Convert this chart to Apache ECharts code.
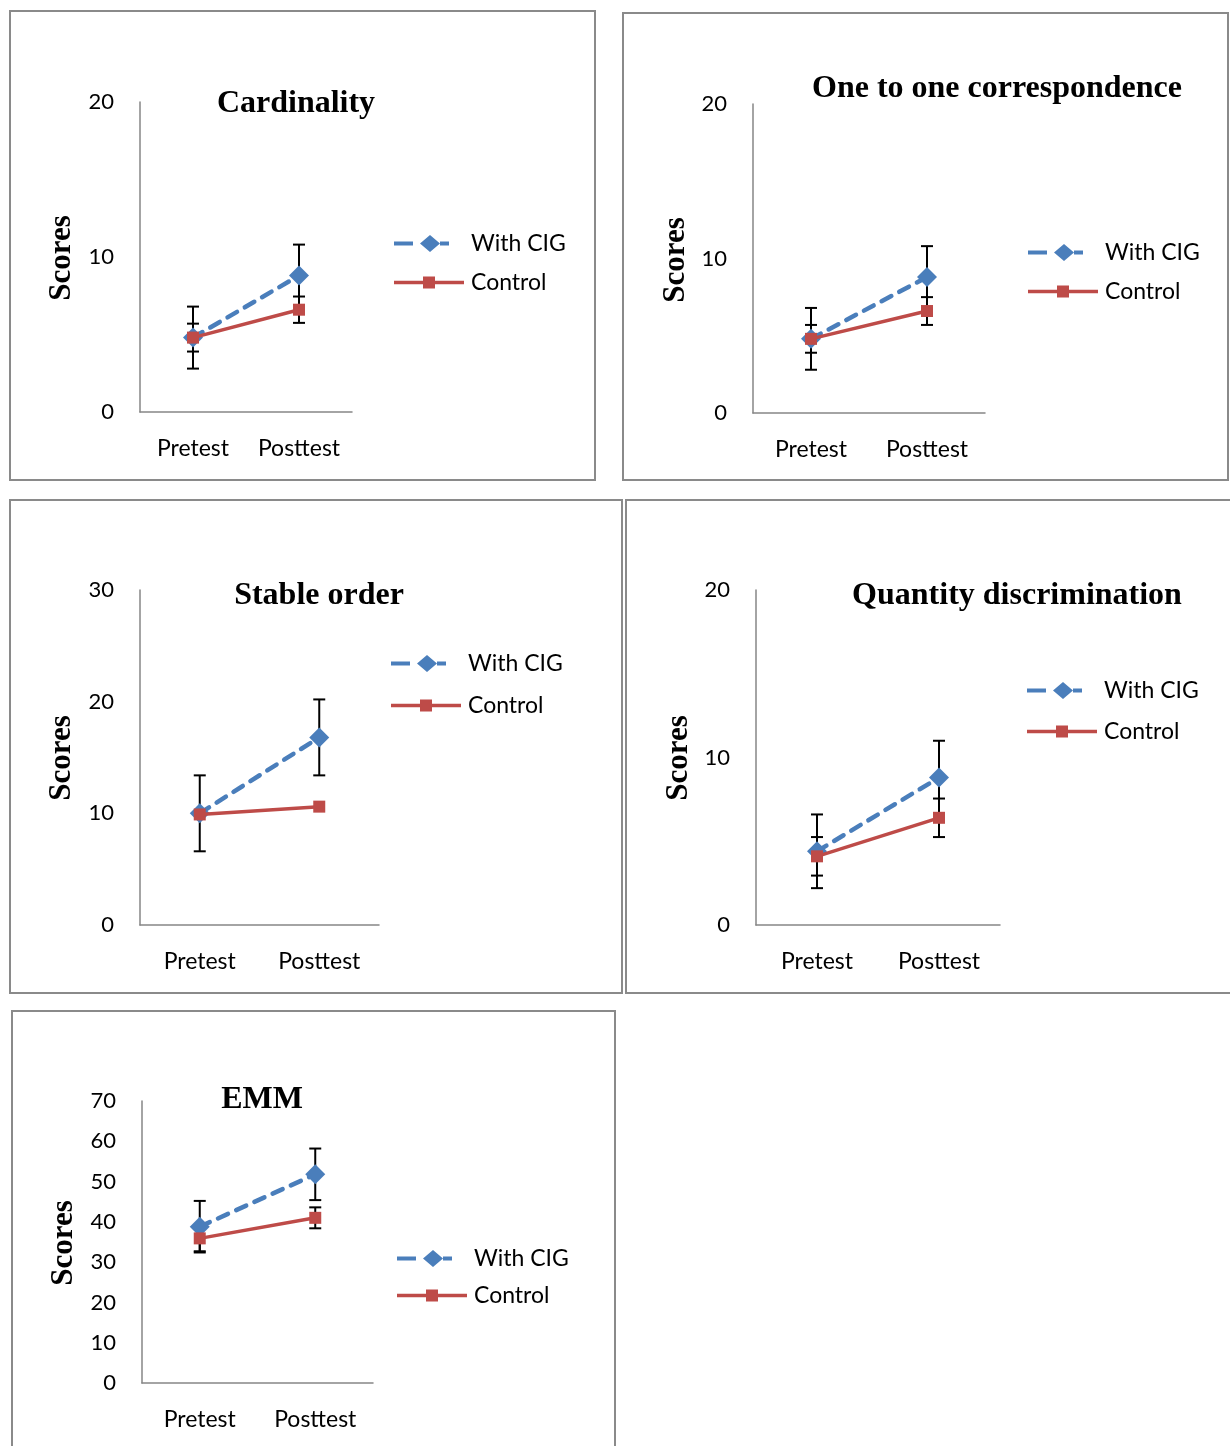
<!DOCTYPE html>
<html>
<head>
<meta charset="utf-8">
<script src="https://cdn.jsdelivr.net/npm/echarts@6/dist/echarts.min.js"></script>
<style>
html,body{margin:0;padding:0;background:#fff;}
#c{width:1230px;height:1446px;}
</style>
</head>
<body>
<div id="c"></div>
<script>
// ---- data ----
const categories = ['Pretest', 'Posttest'];
const seriesNames = ['With CIG', 'Control'];
const panelTitles = ['Cardinality', 'One to one correspondence', 'Stable order', 'Quantity discrimination', 'EMM'];
const yMaxes = [20, 20, 30, 20, 70];

const cardinalityCIG = [4.8, 8.8];
const cardinalityCIGErr = [2.0, 2.0];
const cardinalityControl = [4.8, 6.6];
const cardinalityControlErr = [0.9, 0.85];

const oneToOneCIG = [4.8, 8.8];
const oneToOneCIGErr = [2.0, 2.0];
const oneToOneControl = [4.8, 6.6];
const oneToOneControlErr = [0.9, 0.9];

const stableCIG = [10.0, 16.8];
const stableCIGErr = [3.4, 3.4];
const stableControl = [9.9, 10.6];
const stableControlErr = [0, 0];

const quantityCIG = [4.4, 8.8];
const quantityCIGErr = [2.2, 2.2];
const quantityControl = [4.1, 6.4];
const quantityControlErr = [1.15, 1.15];

const emmCIG = [38.8, 51.8];
const emmCIGErr = [6.4, 6.4];
const emmControl = [35.9, 41.0];
const emmControlErr = [3.2, 2.6];

const panelData = [
  [cardinalityCIG, cardinalityCIGErr, cardinalityControl, cardinalityControlErr],
  [oneToOneCIG, oneToOneCIGErr, oneToOneControl, oneToOneControlErr],
  [stableCIG, stableCIGErr, stableControl, stableControlErr],
  [quantityCIG, quantityCIGErr, quantityControl, quantityControlErr],
  [emmCIG, emmCIGErr, emmControl, emmControlErr]
];

// ---- layout ----
const grids = [
  {left: 140, top: 102, width: 212, height: 310},
  {left: 753, top: 104, width: 232, height: 309},
  {left: 140, top: 590, width: 239, height: 335},
  {left: 756, top: 590, width: 244, height: 335},
  {left: 142, top: 1101, width: 231, height: 282}
];
const boxes = [
  {x: 10, y: 11, width: 585, height: 469},
  {x: 623, y: 13, width: 605, height: 467},
  {x: 10, y: 500, width: 612, height: 493},
  {x: 626, y: 500, width: 612, height: 493},
  {x: 12, y: 1011, width: 603, height: 445}
];
const titlePos = [[296, 104], [997, 89], [319, 596], [1017, 596], [262, 1100]];
const scoresPos = [[62, 258], [676, 260], [62, 758], [679, 758], [64, 1243]];
const legendPos = [[394, 232, 16], [1028, 241, 16], [391, 652, 19], [1027, 679, 18], [397, 1247, 14]];

const BLUE = '#4A7EBB';
const RED = '#BE4B48';
const AXIS = '#868686';
const sansFont = 'Lato, "Open Sans", sans-serif';
const serifFont = '"Liberation Serif", "DejaVu Serif", serif';

// legend icons (line + marker), drawn in a 70x20 box
const blueLegendIcon = 'path://M0 0L0 0M70 20L70 20M0 8H19V12H0ZM26 10L36 1.5L46 10L36 18.5ZM46 8H55V12H46Z';
const redLegendIcon = 'path://M0 0L0 0M70 20L70 20M0 8.25H70V11.75H0ZM29 4H41V16H29Z';

function errorBarRender(params, api) {
  const x = api.value(0);
  const lo = api.coord([x, api.value(1)]);
  const hi = api.coord([x, api.value(2)]);
  const cap = 6;
  const st = {stroke: '#000', lineWidth: 2};
  return {
    type: 'group',
    children: [
      {type: 'line', shape: {x1: hi[0], y1: hi[1], x2: lo[0], y2: lo[1]}, style: st},
      {type: 'line', shape: {x1: hi[0] - cap, y1: hi[1], x2: hi[0] + cap, y2: hi[1]}, style: st},
      {type: 'line', shape: {x1: lo[0] - cap, y1: lo[1], x2: lo[0] + cap, y2: lo[1]}, style: st}
    ]
  };
}

const blueLine = {color: BLUE, width: 4.5, type: [11, 9], cap: 'round'};
const redLine = {color: RED, width: 3.5};

const option = {
  backgroundColor: '#fff',
  animation: false,
  grid: [], xAxis: [], yAxis: [], series: [], legend: [], graphic: []
};

panelData.forEach((pd, i) => {
  option.grid.push(Object.assign({containLabel: false}, grids[i]));
  option.xAxis.push({
    type: 'category', gridIndex: i, data: categories, boundaryGap: true,
    axisLine: {show: true, lineStyle: {color: AXIS, width: 1.5}},
    axisTick: {show: false},
    axisLabel: {color: '#000', fontFamily: sansFont, fontSize: 23, margin: 25, interval: 0}
  });
  option.yAxis.push({
    type: 'value', gridIndex: i, min: 0, max: yMaxes[i], interval: 10,
    axisLine: {show: true, lineStyle: {color: AXIS, width: 1.5}},
    axisTick: {show: false},
    splitLine: {show: false},
    axisLabel: {color: '#000', fontFamily: sansFont, fontSize: 22, margin: 26}
  });
  const [cig, cigErr, ctrl, ctrlErr] = pd;
  option.series.push({
    type: 'custom', xAxisIndex: i, yAxisIndex: i, z: 1,
    renderItem: errorBarRender, encode: {x: 0, y: [1, 2]},
    data: cig.map((v, k) => [k, v - cigErr[k], v + cigErr[k]]).filter((d) => d[2] > d[1])
  });
  option.series.push({
    type: 'custom', xAxisIndex: i, yAxisIndex: i, z: 1,
    renderItem: errorBarRender, encode: {x: 0, y: [1, 2]},
    data: ctrl.map((v, k) => [k, v - ctrlErr[k], v + ctrlErr[k]]).filter((d) => d[2] > d[1])
  });
  option.series.push({
    name: seriesNames[0], type: 'line', xAxisIndex: i, yAxisIndex: i, z: 3,
    data: cig, color: BLUE,
    symbol: 'diamond', symbolSize: 20,
    lineStyle: blueLine,
    itemStyle: {color: BLUE}
  });
  option.series.push({
    name: seriesNames[1], type: 'line', xAxisIndex: i, yAxisIndex: i, z: 4,
    data: ctrl, color: RED,
    symbol: 'rect', symbolSize: 12,
    lineStyle: redLine,
    itemStyle: {color: RED}
  });
  option.legend.push({
    data: [
      {name: seriesNames[0], icon: blueLegendIcon, itemStyle: {color: BLUE, borderWidth: 0}},
      {name: seriesNames[1], icon: redLegendIcon, itemStyle: {color: RED, borderWidth: 0}}
    ],
    orient: 'vertical', padding: 0,
    left: legendPos[i][0], top: legendPos[i][1], itemGap: legendPos[i][2],
    itemWidth: 70, itemHeight: 20, selectedMode: false,
    textStyle: {color: '#000', fontFamily: sansFont, fontSize: 23, padding: [0, 0, 0, 2]}
  });
  option.graphic.push({
    type: 'rect', shape: boxes[i], silent: true,
    style: {fill: 'none', stroke: '#8a8a8a', lineWidth: 2}
  });
  option.graphic.push({
    type: 'text', x: titlePos[i][0], y: titlePos[i][1],
    style: {text: panelTitles[i], font: 'bold 32px ' + serifFont, fill: '#000', align: 'center', verticalAlign: 'middle'}
  });
  option.graphic.push({
    type: 'text', x: scoresPos[i][0], y: scoresPos[i][1], rotation: Math.PI / 2,
    style: {text: 'Scores', font: 'bold 31px ' + serifFont, fill: '#000', align: 'center', verticalAlign: 'middle'}
  });
});

const chart = echarts.init(document.getElementById('c'), null, {renderer: 'canvas'});
chart.setOption(option);
</script>
</body>
</html>
